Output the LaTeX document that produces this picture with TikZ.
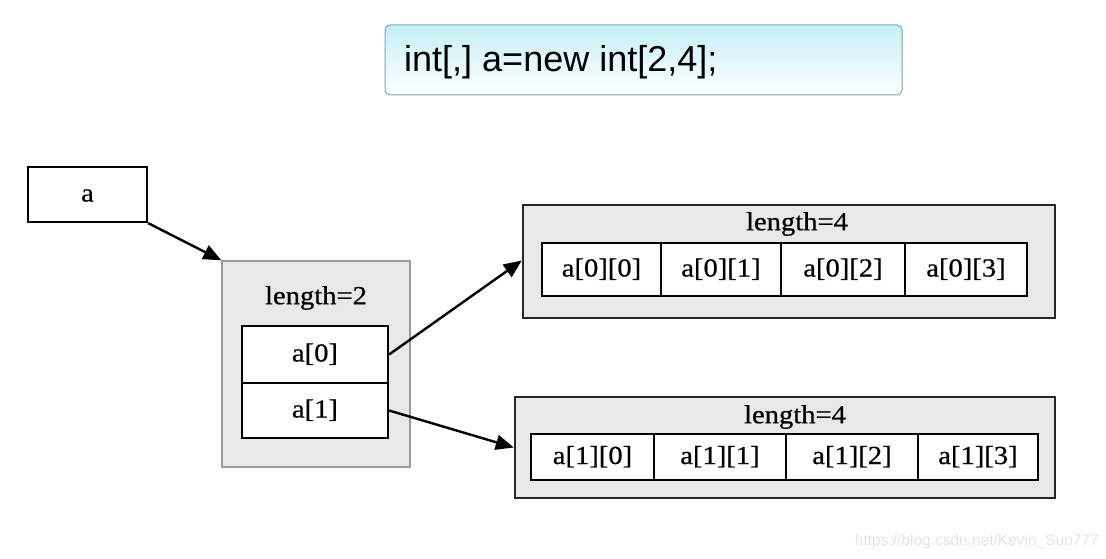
\documentclass[tikz,border=0pt]{standalone}
\usepackage{fontspec}
\setmainfont{Liberation Serif}[FakeStretch=1.1,FakeBold=0.6]
\newfontfamily\codefont{Liberation Sans}
\usetikzlibrary{arrows.meta}
\definecolor{boxgray}{RGB}{232,232,232}
\definecolor{codetop}{RGB}{196,240,246}
\definecolor{codeborder}{RGB}{120,170,170}
\tikzset{
  outerbox/.style={draw=black!85, line width=2.4pt, fill=boxgray, inner sep=0pt},
  cellbox/.style={draw=black, line width=2.2pt, fill=white, inner sep=0pt, font=\fontsize{26}{29}\selectfont, text height=18pt, text depth=4pt},
  lbl/.style={inner sep=0pt, font=\fontsize{26}{29}\selectfont},
  conn/.style={line width=2.4pt, -{Triangle[length=18pt,width=15pt]}},
}
\begin{document}
\begin{tikzpicture}[x=1pt,y=-1pt]
\useasboundingbox (0,0) rectangle (1106,559);
% code box
\node[draw=codeborder, line width=1pt, rounded corners=5pt, top color=codetop, bottom color=white,
      minimum width=517pt, minimum height=70pt, inner sep=0pt] (code) at (643.5,60) {};
\node[anchor=west, inner sep=0pt, font=\codefont\fontsize{36}{42}\selectfont] (codetext) at (404,62) {int[,] a=new int[2,4];};
% variable a
\node[cellbox, minimum width=119pt, minimum height=55pt] (a) at (87.5,194.5) {a};
% length=2 box
\node[draw=gray!80, line width=1.4pt, fill=boxgray, minimum width=188pt, minimum height=206pt, inner sep=0pt] (len2) at (316,364) {};
\node[lbl] (len2lbl) at (316,298) {length=2};
\node[cellbox, minimum width=146pt, minimum height=57pt] (c0) at (315,354.5) {a[0]};
\node[cellbox, minimum width=146pt, minimum height=55pt] (c1) at (315,410.5) {a[1]};
% row 0
\node[outerbox, minimum width=532pt, minimum height=113pt] (row0) at (789,261.5) {};
\node[lbl] (row0lbl) at (797,224) {length=4};
\node[cellbox, minimum width=119pt, minimum height=53pt] (r00) at (601.5,269.5) {a[0][0]};
\node[cellbox, minimum width=120pt, minimum height=53pt] (r01) at (721,269.5) {a[0][1]};
\node[cellbox, minimum width=124pt, minimum height=53pt] (r02) at (843,269.5) {a[0][2]};
\node[cellbox, minimum width=122pt, minimum height=53pt] (r03) at (966,269.5) {a[0][3]};
% row 1
\node[outerbox, minimum width=540pt, minimum height=101pt] (row1) at (785,447.5) {};
\node[lbl] (row1lbl) at (795,417) {length=4};
\node[cellbox, minimum width=123pt, minimum height=46pt] (r10) at (592.5,457) {a[1][0]};
\node[cellbox, minimum width=132pt, minimum height=46pt] (r11) at (720,457) {a[1][1]};
\node[cellbox, minimum width=132pt, minimum height=46pt] (r12) at (852,457) {a[1][2]};
\node[cellbox, minimum width=120pt, minimum height=46pt] (r13) at (978,457) {a[1][3]};
% connectors
\draw[conn] (a.south east) -- (len2.north west);
\draw[conn] (c0.east) -- ([yshift=1pt]row0.west);
\draw[conn] (c1.east) -- (row1.west);
% watermark
\node[anchor=east, inner sep=0pt, text=gray!22, font=\codefont\fontsize{15.5}{18}\selectfont] (wm) at (1099,541) {https://blog.csdn.net/Kevin\_Sun777};
\end{tikzpicture}
\end{document}
